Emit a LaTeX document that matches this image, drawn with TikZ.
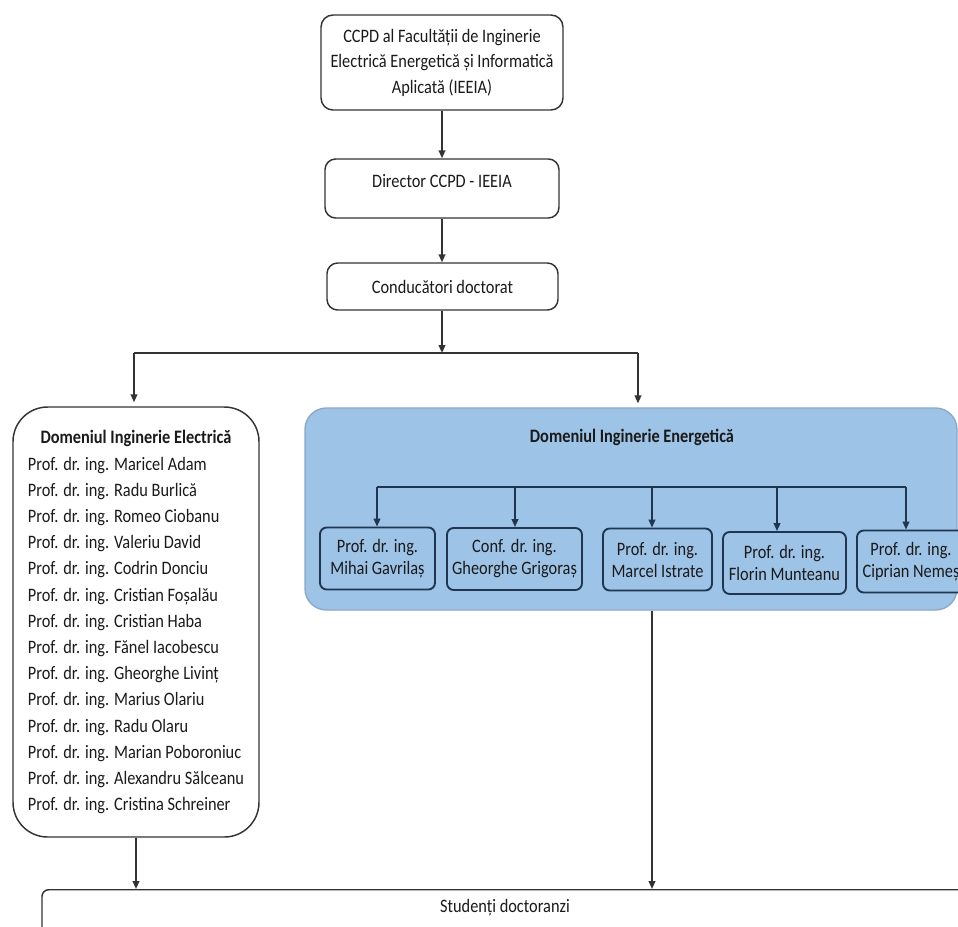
\documentclass[tikz,border=0pt]{standalone}
\usepackage{fontspec}
\setmainfont[FakeStretch=0.86]{Carlito}
\usetikzlibrary{arrows.meta}
\definecolor{txt}{HTML}{1A1A1A}
\definecolor{ln}{HTML}{333333}
\definecolor{bluefill}{HTML}{9DC3E6}
\definecolor{blueedge}{HTML}{8AA8C6}
\definecolor{navy}{HTML}{1F3550}
\begin{document}
\begin{tikzpicture}[x=0.75pt,y=-0.75pt,
  every node/.style={text=txt, font=\fontsize{14.25}{19.1}\selectfont, inner sep=0pt},
  wbox/.style={draw=ln, line width=1.1pt, fill=white, rounded corners=8pt, align=center},
  arr/.style={-{Triangle[length=6pt,width=5pt]}, draw=ln, line width=1.3pt},
  conn/.style={draw=ln, line width=1.3pt},
  ibox/.style={draw=navy, line width=1.4pt, fill=bluefill, rounded corners=5pt, align=center,
    minimum height=46.5pt, font=\fontsize{14.25}{16.5}\selectfont},
  iline/.style={draw=navy, line width=1.4pt},
  iarr/.style={-{Triangle[length=6pt,width=5pt]}, draw=navy, line width=1.4pt},
]
\useasboundingbox (0,0) rectangle (958,926);
\fill[white] (0,0) rectangle (958,926);

% top chain
\node[wbox, minimum width=181.5pt, minimum height=71.25pt, rounded corners=9pt] (top) at (442,62.5)
  {CCPD al Facultății de Inginerie\\Electrică Energetică și Informatică\\Aplicată (IEEIA)};
\node[wbox, minimum width=175.5pt, minimum height=44.25pt, text height=10pt, text depth=11.5pt] (dir) at (442,188.5)
  {Director CCPD - IEEIA};
\node[wbox, minimum width=173.25pt, minimum height=35.25pt] (cond) at (442.5,286.5)
  {Conducători doctorat};

% left domain
\node[wbox, minimum width=184.5pt, minimum height=322.5pt, rounded corners=26pt,
  font=\fontsize{14.25}{19.65}\selectfont] (elec) at (136,622)
  {\begin{tabular}{@{}l@{}}
   \multicolumn{1}{@{}c@{}}{\bfseries Domeniul Inginerie Electrică}\\
   Prof. dr. ing. Maricel Adam\\
   Prof. dr. ing. Radu Burlică\\
   Prof. dr. ing. Romeo Ciobanu\\
   Prof. dr. ing. Valeriu David\\
   Prof. dr. ing. Codrin Donciu\\
   Prof. dr. ing. Cristian Foșalău\\
   Prof. dr. ing. Cristian Haba\\
   Prof. dr. ing. Fănel Iacobescu\\
   Prof. dr. ing. Gheorghe Livinț\\
   Prof. dr. ing. Marius Olariu\\
   Prof. dr. ing. Radu Olaru\\
   Prof. dr. ing. Marian Poboroniuc\\
   Prof. dr. ing. Alexandru Sălceanu\\
   Prof. dr. ing. Cristina Schreiner
   \end{tabular}};

% right domain
\node[draw=blueedge, line width=1pt, fill=bluefill, rounded corners=16pt,
  minimum width=489pt, minimum height=151.5pt] (energ) at (631,509) {};
\node[font=\bfseries\fontsize{14.25}{17}\selectfont] (energh) at (632,437) {Domeniul Inginerie Energetică};

\node[ibox, minimum width=86.25pt] (mihai) at (377.5,558.5) {Prof. dr. ing.\\Mihai Gavrilaș};
\node[ibox, minimum width=101.25pt] (gheo) at (514.5,559) {Conf. dr. ing.\\Gheorghe Grigoraș};
\node[ibox, minimum width=81.75pt] (marcel) at (657.5,559.5) {Prof. dr. ing.\\Marcel Istrate};
\node[ibox, minimum width=92.25pt] (florin) at (784.5,563) {Prof. dr. ing.\\Florin Munteanu};
\node[ibox, minimum width=81pt] (ciprian) at (911,561.5) {Prof. dr. ing.\\Ciprian Nemeș};

% bottom
\node[wbox, rounded corners=5pt, anchor=north, minimum width=694.5pt, minimum height=45pt,
  text height=10pt, text depth=21pt] (stud) at (505,889) {Studenți doctoranzi};

% connectors top
\coordinate (jc) at (442,353);
\coordinate (jl) at (134,353);
\coordinate (jr) at (638,353);
\draw[arr] (top.south) -- (dir.north);
\draw[arr] (dir.south) -- (dir.south |- cond.north);
\draw[arr] (cond.south -| jc) -- (jc);
\draw[conn] (jl) -- (jr);
\draw[arr, shorten >=3pt] (jl) -- (jl |- elec.north);
\draw[arr, shorten >=3pt] (jr) -- (jr |- energ.north);

% inner connectors
\coordinate (h1) at (377,487);
\coordinate (h2) at (515,487);
\coordinate (h3) at (652,487);
\coordinate (h4) at (777,487);
\coordinate (h5) at (906,487);
\draw[iline] (h1) -- (h5);
\draw[iarr] (h1) -- (h1 |- mihai.north);
\draw[iarr] (h2) -- (h2 |- gheo.north);
\draw[iarr] (h3) -- (h3 |- marcel.north);
\draw[iarr] (h4) -- (h4 |- florin.north);
\draw[iarr] (h5) -- (h5 |- ciprian.north);

% to students
\draw[arr] (elec.south) -- (elec.south |- stud.north);
\draw[arr] (h3 |- energ.south) -- (h3 |- stud.north);
\end{tikzpicture}
\end{document}
